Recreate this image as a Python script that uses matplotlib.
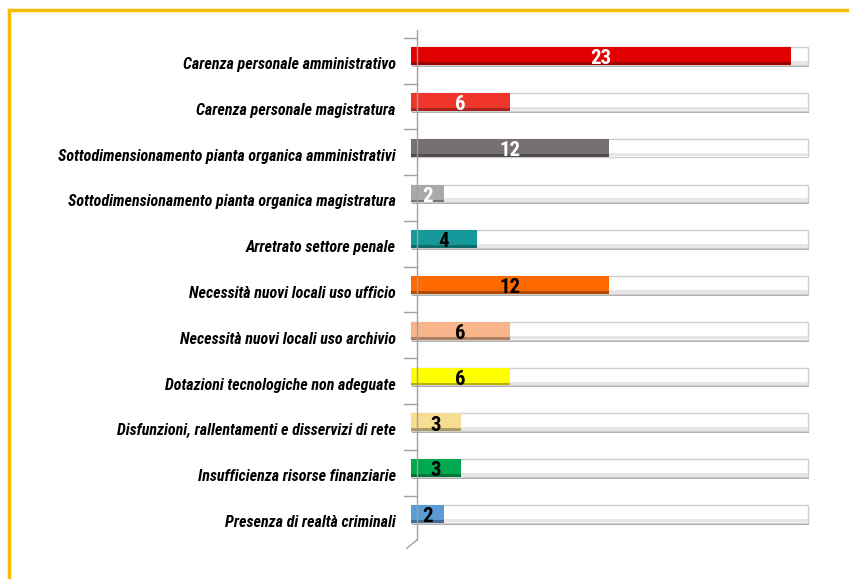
import matplotlib.pyplot as plt
import matplotlib.colors as mcolors
import matplotlib.transforms as mtransforms
import numpy as np

categories = [
    "Carenza personale amministrativo",
    "Carenza personale magistratura",
    "Sottodimensionamento pianta organica amministrativi",
    "Sottodimensionamento pianta organica magistratura",
    "Arretrato settore penale",
    "Necessità nuovi locali uso ufficio",
    "Necessità nuovi locali uso archivio",
    "Dotazioni tecnologiche non adeguate",
    "Disfunzioni, rallentamenti e disservizi di rete",
    "Insufficienza risorse finanziarie",
    "Presenza di realtà criminali",
]
values = [23, 6, 12, 2, 4, 12, 6, 6, 3, 3, 2]
track_max = 24
colors = ["#E00000", "#F0362A", "#767070", "#A9A9A9", "#16999A", "#FF6A00",
          "#F8B58C", "#FFFF00", "#F6DD92", "#00A84F", "#5B9BD5"]
value_colors = ["white", "white", "white", "white", "black", "black",
                "black", "black", "black", "black", "black"]

fam = ["Roboto Condensed", "DejaVu Sans"]

fig = plt.figure(figsize=(8.49, 5.79), dpi=100)
ax = fig.add_axes([411 / 849, 39 / 579, 405 / 849, 510 / 579])
ax.set_xlim(0, 24.5)
ax.set_ylim(10.57, -0.57)

y = np.arange(len(categories))
h = 0.39

def darker(c, f=0.7):
    r, g, b = mcolors.to_rgb(c)
    return (r * f, g * f, b * f)

# shadow + track
ax.barh(y + 0.04, [track_max] * len(y), height=h, left=0.05, color="#A8A8A8", zorder=1)
ax.barh(y, [track_max] * len(y), height=h, color="white", edgecolor="#CFCFCF",
        linewidth=1.0, zorder=2)
ax.barh(y + h * 0.38, [track_max] * len(y), height=h * 0.2, color="#E6E6E6", zorder=2)

# value bars
ax.barh(y, values, height=h, color=colors, zorder=3)
ax.barh(y + h * 0.42, values, height=h * 0.16, color=[darker(c) for c in colors], zorder=3)

for yi, v, tc in zip(y, values, value_colors):
    ax.text(v / 2, yi + 0.06, str(v), ha="center", va="center", color=tc,
            fontsize=15, fontweight="bold", family=fam, zorder=5)

# axis wall line
ax.plot([0.35, 0.35], [-0.57, 10.57], color="#A0A0A0", lw=1, clip_on=False, zorder=4)
ax.plot([0.35, -0.25], [10.57, 10.75], color="#A0A0A0", lw=1, clip_on=False, zorder=4)
for t in np.arange(-0.4, 10.6, 1.0):
    ax.plot([-0.4, 0.35], [t, t], color="#A0A0A0", lw=1, clip_on=False, zorder=4)

ax.set_yticks(y)
ax.set_yticklabels(categories, fontsize=11.5, fontweight="bold", fontstyle="italic",
                   family=fam)
ax.tick_params(axis="y", length=0, pad=11)
shift = mtransforms.ScaledTranslation(0, -7 / 100, fig.dpi_scale_trans)
for lab in ax.get_yticklabels():
    lab.set_transform(lab.get_transform() + shift)
ax.set_xticks([])
for s in ax.spines.values():
    s.set_visible(False)

# yellow frame
fig.add_artist(plt.Line2D([9 / 849, 1.0], [1 - 10 / 579, 1 - 10 / 579], color="#F5BE00", lw=2.5))
fig.add_artist(plt.Line2D([9 / 849, 9 / 849], [0, 1 - 10 / 579], color="#F5BE00", lw=2.5))

fig.savefig("out.png", dpi=100)
